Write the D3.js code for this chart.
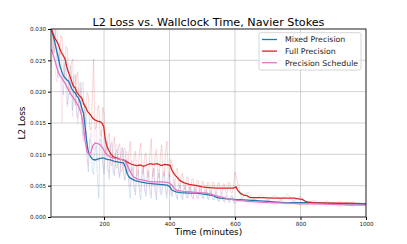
<!DOCTYPE html>
<html>
<head>
<meta charset="utf-8">
<script src="https://cdn.jsdelivr.net/npm/d3@7"></script>
<style>
  body { margin: 0; background: #fff; }
  text { font-family: "DejaVu Sans", sans-serif; }
</style>
</head>
<body>
<div id="container"></div>
<script>
/* DATA */
const seriesNames = ["Mixed Precision", "Full Precision", "Precision Schedule"];
const seriesColors = ["#1f77b4", "#d62728", "#e377c2"];
const xTicks = [200, 400, 600, 800, 1000];
const yTicks = [0, 0.005, 0.010, 0.015, 0.020, 0.025, 0.030];

// smoothed curves: [minutes, loss]
const mixedSmooth = [[39,0.0300],[44,0.0290],[50,0.0278],[55,0.0266],[61,0.0252],[66,0.0240],[71,0.0232],[76,0.0225],[81,0.0222],[86,0.0219],[91,0.0217],[96,0.0212],[101,0.0205],[106,0.0201],[112,0.0198],[117,0.0193],[122,0.0190],[128,0.0182],[133,0.0172],[137,0.0166],[141,0.0150],[146,0.0125],[150,0.0110],[153,0.0102],[160,0.0095],[166,0.0092],[173,0.0091],[185,0.0093],[192,0.0094],[199,0.0094],[209,0.0092],[219,0.0091],[230,0.0089],[240,0.0088],[250,0.0087],[260,0.0086],[265,0.0080],[270,0.0070],[275,0.0065],[280,0.0062],[295,0.0058],[311,0.0056],[330,0.0054],[351,0.0053],[370,0.0052],[392,0.0051],[400,0.0049],[407,0.0043],[420,0.0040],[433,0.0039],[460,0.0038],[483,0.0038],[510,0.0036],[534,0.0034],[545,0.0031],[555,0.0030],[575,0.0029],[600,0.0028],[640,0.0027],[700,0.0025],[748,0.0023],[800,0.0023],[839,0.0023],[870,0.0022],[950,0.0021],[1000,0.0021]];
const fullSmooth = [[39,0.0300],[45,0.0292],[50,0.0285],[55,0.0281],[60,0.0276],[65,0.0268],[70,0.0262],[75,0.0258],[81,0.0252],[86,0.0240],[90,0.0233],[95,0.0226],[100,0.0218],[106,0.0209],[112,0.0206],[118,0.0198],[124,0.0194],[132,0.0190],[138,0.0180],[144,0.0175],[150,0.0168],[157,0.0164],[165,0.0158],[172,0.0155],[180,0.0153],[189,0.0152],[195,0.0149],[199,0.0144],[204,0.0123],[209,0.0113],[214,0.0107],[220,0.0101],[229,0.0096],[240,0.0094],[250,0.0092],[260,0.0091],[270,0.0088],[280,0.0085],[290,0.0083],[300,0.0082],[311,0.0083],[320,0.0081],[330,0.0083],[341,0.0085],[350,0.0084],[362,0.0085],[375,0.0082],[385,0.0084],[397,0.0083],[402,0.0082],[407,0.0075],[415,0.0068],[422,0.0064],[432,0.0058],[443,0.0055],[460,0.0052],[483,0.0050],[500,0.0048],[520,0.0047],[545,0.0046],[570,0.0046],[595,0.0046],[603,0.0048],[608,0.0043],[616,0.0038],[626,0.0035],[636,0.0034],[646,0.0031],[680,0.0031],[717,0.0030],[750,0.0030],[780,0.0030],[793,0.0029],[805,0.0028],[819,0.0024],[839,0.0023],[900,0.0022],[950,0.0022],[1000,0.0021]];
const schedSmooth = [[39,0.0268],[45,0.0258],[50,0.0250],[55,0.0240],[61,0.0230],[66,0.0225],[71,0.0222],[76,0.0217],[81,0.0214],[86,0.0208],[91,0.0203],[96,0.0198],[101,0.0194],[106,0.0190],[112,0.0186],[117,0.0181],[122,0.0177],[127,0.0170],[132,0.0161],[137,0.0145],[142,0.0122],[148,0.0104],[155,0.0100],[160,0.0104],[166,0.0114],[173,0.0118],[181,0.0117],[189,0.0115],[196,0.0110],[204,0.0102],[212,0.0098],[219,0.0096],[230,0.0094],[240,0.0093],[250,0.0092],[260,0.0091],[268,0.0086],[275,0.0078],[282,0.0070],[290,0.0064],[305,0.0060],[321,0.0059],[335,0.0057],[351,0.0056],[375,0.0056],[397,0.0055],[402,0.0053],[407,0.0051],[414,0.0046],[422,0.0043],[440,0.0041],[463,0.0040],[490,0.0039],[514,0.0038],[535,0.0035],[555,0.0032],[580,0.0029],[600,0.0027],[640,0.0025],[700,0.0023],[760,0.0022],[800,0.0021],[850,0.0021],[900,0.0020],[950,0.0019],[1000,0.0019]];

// raw (unsmoothed) losses, first sample set
const rawTimes = [40,48,56,64,72,80,88,96,104,112,120,128,136,144,152,160,168,176,184,192,200,208,216,224,232,240,248,256,264,272,280,288,296,304,312,320,328,336,344,352,360,368,376,384,392,400,408,416,424,432,440,448,456,464,472,480,488,496,504,512,520,528,536,544,552,560,568,576,584,592,600,620,640,660,680,700,720,740,760,780,800,820,840,860,880,900,920,940,960,980,1000];
const mixedRaw = [0.0285,0.0300,0.0238,0.0272,0.0205,0.0248,0.0180,0.0242,0.0170,0.0228,0.0158,0.0215,0.0130,0.0165,0.0072,0.0118,0.0068,0.0115,0.0030,0.0120,0.0068,0.0112,0.0060,0.0118,0.0066,0.0108,0.0062,0.0110,0.0058,0.0085,0.0030,0.0078,0.0035,0.0075,0.0028,0.0080,0.0033,0.0072,0.0030,0.0078,0.0027,0.0070,0.0035,0.0072,0.0030,0.0068,0.0032,0.0052,0.0028,0.0050,0.0027,0.0048,0.0030,0.0047,0.0029,0.0046,0.0030,0.0045,0.0029,0.0043,0.0028,0.0041,0.0027,0.0037,0.0025,0.0035,0.0024,0.0034,0.0024,0.0033,0.0023,0.0030,0.0024,0.0029,0.0023,0.0028,0.0022,0.0027,0.0021,0.0026,0.0021,0.0025,0.0020,0.0024,0.0020,0.0024,0.0019,0.0023,0.0019,0.0023,0.0019];
const fullRaw = [0.0310,0.0262,0.0305,0.0248,0.0285,0.0221,0.0268,0.0195,0.0252,0.0178,0.0231,0.0165,0.0215,0.0152,0.0195,0.0138,0.0252,0.0142,0.0178,0.0128,0.0166,0.0098,0.0134,0.0082,0.0128,0.0078,0.0117,0.0074,0.0110,0.0070,0.0121,0.0068,0.0105,0.0065,0.0118,0.0069,0.0102,0.0063,0.0125,0.0067,0.0108,0.0062,0.0115,0.0066,0.0121,0.0064,0.0085,0.0052,0.0078,0.0046,0.0070,0.0043,0.0064,0.0040,0.0061,0.0041,0.0058,0.0039,0.0056,0.0038,0.0055,0.0037,0.0053,0.0039,0.0054,0.0037,0.0052,0.0038,0.0054,0.0039,0.0072,0.0030,0.0040,0.0027,0.0036,0.0026,0.0035,0.0027,0.0036,0.0026,0.0033,0.0021,0.0027,0.0019,0.0026,0.0019,0.0025,0.0019,0.0024,0.0019,0.0023];
const schedRaw = [0.0240,0.0290,0.0215,0.0262,0.0150,0.0245,0.0175,0.0228,0.0160,0.0225,0.0148,0.0205,0.0120,0.0140,0.0082,0.0135,0.0090,0.0148,0.0088,0.0140,0.0076,0.0125,0.0070,0.0122,0.0068,0.0115,0.0066,0.0112,0.0060,0.0098,0.0048,0.0085,0.0040,0.0078,0.0040,0.0080,0.0038,0.0075,0.0036,0.0078,0.0034,0.0076,0.0038,0.0074,0.0036,0.0072,0.0035,0.0058,0.0030,0.0055,0.0030,0.0052,0.0031,0.0050,0.0030,0.0049,0.0029,0.0048,0.0030,0.0046,0.0028,0.0043,0.0027,0.0040,0.0025,0.0037,0.0023,0.0035,0.0022,0.0034,0.0021,0.0028,0.0021,0.0027,0.0020,0.0026,0.0019,0.0025,0.0018,0.0024,0.0018,0.0023,0.0017,0.0023,0.0017,0.0022,0.0016,0.0022,0.0016,0.0021,0.0016];

// raw losses, second sample set (in between the first)
const rawTimes2 = [44,52,60,68,76,84,92,100,108,116,124,132,140,148,156,164,172,180,188,196,204,212,220,228,236,244,252,260,268,276,284,292,300,308,316,324,332,340,348,356,364,372,380,388,396,404,412,420,428,436,444,452,460,468,476,484,492,500,508,516,524,532,540,548,556,564,572,580,588,596];
const mixedRaw2 = [0.0262,0.0295,0.0222,0.0268,0.0195,0.0251,0.0190,0.0230,0.0225,0.0168,0.0210,0.0150,0.0182,0.0098,0.0125,0.0075,0.0102,0.0060,0.0125,0.0081,0.0105,0.0074,0.0115,0.0070,0.0102,0.0075,0.0098,0.0066,0.0092,0.0048,0.0075,0.0045,0.0070,0.0040,0.0068,0.0045,0.0066,0.0038,0.0069,0.0042,0.0064,0.0036,0.0066,0.0040,0.0061,0.0038,0.0048,0.0033,0.0046,0.0032,0.0045,0.0031,0.0046,0.0033,0.0044,0.0031,0.0043,0.0032,0.0041,0.0030,0.0040,0.0029,0.0038,0.0027,0.0035,0.0026,0.0034,0.0025,0.0033,0.0024];
const fullRaw2 = [0.0275,0.0300,0.0258,0.0290,0.0240,0.0272,0.0210,0.0245,0.0188,0.0226,0.0176,0.0212,0.0160,0.0198,0.0145,0.0185,0.0140,0.0172,0.0132,0.0175,0.0105,0.0128,0.0086,0.0115,0.0080,0.0112,0.0072,0.0108,0.0075,0.0102,0.0071,0.0099,0.0066,0.0104,0.0070,0.0097,0.0068,0.0101,0.0064,0.0100,0.0069,0.0098,0.0065,0.0103,0.0070,0.0092,0.0060,0.0075,0.0052,0.0068,0.0049,0.0063,0.0045,0.0060,0.0042,0.0058,0.0041,0.0057,0.0040,0.0055,0.0039,0.0056,0.0038,0.0055,0.0040,0.0053,0.0038,0.0056,0.0039,0.0054];
const schedRaw2 = [0.0280,0.0228,0.0255,0.0205,0.0240,0.0190,0.0225,0.0178,0.0212,0.0165,0.0200,0.0142,0.0155,0.0088,0.0118,0.0092,0.0138,0.0095,0.0135,0.0085,0.0128,0.0078,0.0118,0.0073,0.0116,0.0072,0.0110,0.0070,0.0105,0.0058,0.0090,0.0045,0.0082,0.0046,0.0076,0.0042,0.0074,0.0043,0.0072,0.0040,0.0073,0.0041,0.0070,0.0042,0.0069,0.0040,0.0060,0.0034,0.0053,0.0033,0.0051,0.0032,0.0049,0.0031,0.0048,0.0030,0.0047,0.0030,0.0045,0.0029,0.0044,0.0028,0.0041,0.0026,0.0039,0.0025,0.0036,0.0024,0.0034,0.0023];

/* LAYOUT */
const width = 407, height = 244;
const plot = {left: 51, right: 366, top: 29, bottom: 217};

const svg = d3.select("#container")
  .append("svg")
  .attr("width", width)
  .attr("height", height);

const xScale = d3.scaleLinear().domain([38, 1000]).range([plot.left, plot.right]);
const yScale = d3.scaleLinear().domain([0, 0.030]).range([plot.bottom, plot.top]);

svg.append("defs").append("clipPath").attr("id", "clip")
  .append("rect")
  .attr("x", plot.left).attr("y", plot.top)
  .attr("width", plot.right - plot.left).attr("height", plot.bottom - plot.top);

// grid
const grid = svg.append("g").attr("stroke", "#b0b0b0").attr("stroke-opacity", 0.7).attr("stroke-width", 0.8);
xTicks.forEach(t => grid.append("line")
  .attr("x1", xScale(t)).attr("x2", xScale(t)).attr("y1", plot.top).attr("y2", plot.bottom));
yTicks.forEach(t => grid.append("line")
  .attr("x1", plot.left).attr("x2", plot.right).attr("y1", yScale(t)).attr("y2", yScale(t)));

const line = d3.line().x(d => xScale(d[0])).y(d => yScale(d[1]));
const lines = svg.append("g").attr("clip-path", "url(#clip)").attr("fill", "none");

// raw traces: merge both sample sets in time order
const raws = [[mixedRaw, mixedRaw2], [fullRaw, fullRaw2], [schedRaw, schedRaw2]];
raws.forEach((r, i) => {
  const pts = rawTimes.map((t, j) => [t, r[0][j]])
    .concat(rawTimes2.map((t, j) => [t, r[1][j]]))
    .sort((a, b) => a[0] - b[0]);
  lines.append("path")
    .attr("d", line(pts))
    .attr("stroke", seriesColors[i])
    .attr("stroke-opacity", 0.2)
    .attr("stroke-width", 0.9);
});

// smoothed traces
const smooths = [mixedSmooth, fullSmooth, schedSmooth];
smooths.forEach((pts, i) => {
  lines.append("path")
    .attr("d", line(pts))
    .attr("stroke", seriesColors[i])
    .attr("stroke-width", 1.3);
});

// axes
const xAxis = d3.axisBottom(xScale).tickValues(xTicks).tickSize(3).tickPadding(2).tickFormat(d3.format("d"));
const yAxis = d3.axisLeft(yScale).tickValues(yTicks).tickSize(3).tickPadding(2).tickFormat(d3.format(".3f"));

svg.append("g").attr("transform", "translate(0," + plot.bottom + ")").call(xAxis)
  .call(g => g.select(".domain").remove())
  .selectAll("text").attr("font-size", 5.6).attr("fill", "#222");
svg.append("g").attr("transform", "translate(" + plot.left + ",0)").call(yAxis)
  .call(g => g.select(".domain").remove())
  .selectAll("text").attr("font-size", 5.6).attr("fill", "#222");

svg.append("rect")
  .attr("x", plot.left).attr("y", plot.top)
  .attr("width", plot.right - plot.left).attr("height", plot.bottom - plot.top)
  .attr("fill", "none").attr("stroke", "#222").attr("stroke-width", 0.9);

// titles
svg.append("text").attr("x", (plot.left + plot.right) / 2).attr("y", 26)
  .attr("text-anchor", "middle").attr("font-size", 11.2)
  .text("L2 Loss vs. Wallclock Time, Navier Stokes");
svg.append("text").attr("x", (plot.left + plot.right) / 2).attr("y", 235)
  .attr("text-anchor", "middle").attr("font-size", 8.9)
  .text("Time (minutes)");
svg.append("text").attr("transform", "translate(25," + ((plot.top + plot.bottom) / 2) + ") rotate(-90)")
  .attr("text-anchor", "middle").attr("font-size", 8.9)
  .text("L2 Loss");

// legend
const legend = svg.append("g");
legend.append("rect")
  .attr("x", 259).attr("y", 32.7).attr("width", 102).attr("height", 37.3)
  .attr("rx", 2).attr("fill", "#fff").attr("fill-opacity", 0.8)
  .attr("stroke", "#ccc").attr("stroke-width", 0.8);
seriesNames.forEach((name, i) => {
  const y = 39.5 + i * 11.6;
  legend.append("line").attr("x1", 262).attr("x2", 277).attr("y1", y).attr("y2", y)
    .attr("stroke", seriesColors[i]).attr("stroke-width", 1.3);
  legend.append("text").attr("x", 285).attr("y", y + 2.8)
    .attr("font-size", 7.8).attr("fill", "#222").text(name);
});
</script>
</body>
</html>
